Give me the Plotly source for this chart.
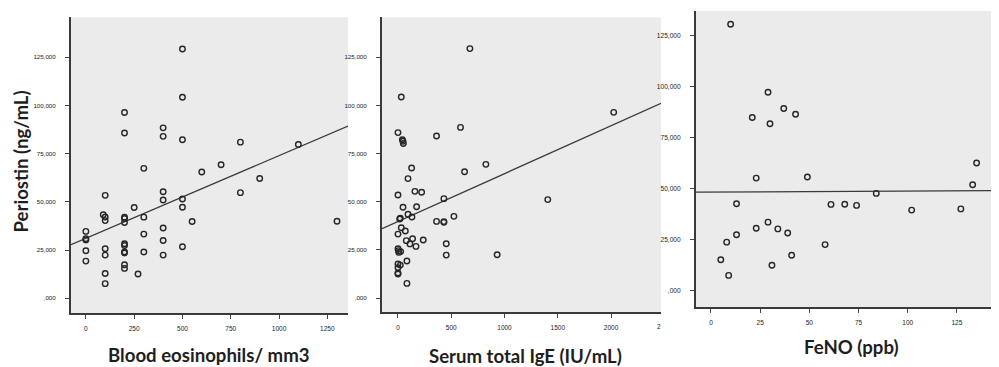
import plotly.graph_objects as go

# ---------------- data ----------------
eos_x = [500, 500, 200, 200, 400, 400, 500, 800, 1100, 700, 300, 600, 900, 100, 400, 800,
         400, 500, 500, 250, 90, 100, 100, 200, 200, 200, 300, 550, 1300, 0, 0, 0, 300,
         400, 400, 0, 100, 100, 200, 200, 200, 200, 300, 400, 500, 0, 100, 100, 200, 200, 270]
eos_y = [129300, 104300, 96400, 85700, 88400, 84000, 82200, 81000, 79800, 69300, 67400, 65500,
         62100, 53400, 55300, 54800, 51000, 51500, 47200, 47100, 43300, 42200, 40300, 42100,
         41400, 39300, 42100, 39800, 40000, 34700, 30900, 30300, 33300, 30000, 36500, 24700,
         25700, 22400, 28300, 27400, 24100, 23500, 24000, 22400, 26700, 19300, 12900, 7600,
         17400, 15500, 12600]
eos_fit_x = [-77, 1357]
eos_fit_y = [27800, 89300]

ige_x = [675, 31, 2025, 587, 0, 362, 41, 47, 50, 825, 128, 625, 94, 159, 222, 0, 431, 1406,
         47, 175, 94, 131, 525, 16, 22, 362, 431, 431, 31, 69, 0, 78, 137, 112, 169, 237, 453,
         0, 5, 8, 25, 453, 931, 84, 0, 22, 0, 0, 0, 84]
ige_y = [129500, 104400, 96400, 88600, 85900, 84100, 82200, 81400, 80200, 69400, 67500, 65600,
         62000, 55400, 54900, 53500, 51600, 51100, 47100, 47400, 43500, 42100, 42400, 41000,
         41400, 39800, 39700, 39300, 36500, 34800, 33200, 29800, 30800, 28100, 26800, 30100,
         28200, 25600, 24600, 23700, 24100, 22300, 22500, 19200, 17700, 17100, 15800, 13000,
         12500, 7600]
ige_fit_x = [-150, 2469]
ige_fit_y = [36000, 101100]

feno_x = [10, 29, 21, 37, 43, 30, 23, 49, 135, 133, 84, 13, 61, 68, 74, 102, 127, 29, 23, 34,
          39, 13, 8, 58, 5, 41, 31, 9]
feno_y = [130600, 97300, 84900, 89300, 86500, 81800, 55200, 55700, 62600, 51900, 47700, 42600,
          42300, 42400, 41800, 39500, 40100, 33600, 30600, 30300, 28300, 27400, 23800, 22600,
          15200, 17400, 12500, 7500]
feno_fit_x = [-7.6, 147.4]
feno_fit_y = [48300, 49100]

y_tickvals = [0, 25000, 50000, 75000, 100000, 125000]
y_ticktext = [",000", "25,000", "50,000", "75,000", "100,000", "125,000"]
eos_ticks = [0, 250, 500, 750, 1000, 1250]
ige_ticks = [0, 500, 1000, 1500, 2000]
feno_ticks = [0, 25, 50, 75, 100, 125]

# ---------------- figure ----------------
INK = "#262626"
fig = go.Figure()

def add_panel(xs, ys, fx, fy, n):
    xa = "x" if n == 1 else f"x{n}"
    ya = "y" if n == 1 else f"y{n}"
    fig.add_trace(go.Scatter(x=fx, y=fy, mode="lines", xaxis=xa, yaxis=ya,
                             line=dict(color="#3a3a3a", width=1.3), showlegend=False,
                             hoverinfo="skip"))
    fig.add_trace(go.Scatter(x=xs, y=ys, mode="markers", xaxis=xa, yaxis=ya,
                             marker=dict(symbol="circle-open", size=5.5,
                                         color=INK, line=dict(width=1.4, color=INK)),
                             showlegend=False))

add_panel(eos_x, eos_y, eos_fit_x, eos_fit_y, 1)
add_panel(ige_x, ige_y, ige_fit_x, ige_fit_y, 2)
add_panel(feno_x, feno_y, feno_fit_x, feno_fit_y, 3)

tickfont = dict(family="Liberation Sans, Arial, sans-serif", size=6.5, color="#222")
common_x = dict(showgrid=False, zeroline=False, showline=True, linecolor="#3a3a3a",
                linewidth=2, ticks="outside", ticklen=4, tickwidth=1, tickcolor="#444",
                tickfont=tickfont, ticklabelstandoff=4)
common_y = dict(showgrid=False, zeroline=False, showline=True, linecolor="#3a3a3a",
                linewidth=2, ticks="outside", ticklen=4, tickwidth=1, tickcolor="#444",
                tickfont=dict(family="Liberation Sans, Arial, sans-serif", size=6.2, color="#222"),
                tickvals=y_tickvals, ticktext=y_ticktext, ticklabelstandoff=8)

fig.update_layout(
    width=999, height=367,
    margin=dict(l=0, r=0, t=0, b=0),
    paper_bgcolor="white",
    plot_bgcolor="#ebebeb",
    xaxis=dict(domain=[63/999, 340/999], range=[-77, 1357], tickvals=eos_ticks,
               anchor="y", **common_x),
    yaxis=dict(domain=[1-305/367, 1-9.3/367], range=[-7625, 145750], anchor="x", **common_y),
    xaxis2=dict(domain=[374/999, 653/999], range=[-150, 2469], tickvals=ige_ticks,
                anchor="y2", **common_x),
    yaxis2=dict(domain=[1-304.3/367, 1-9.3/367], range=[-7400, 145750], anchor="x2", **common_y),
    xaxis3=dict(domain=[688/999, 993/999], range=[-7.6, 147.4], tickvals=feno_ticks,
                anchor="y3", **common_x),
    yaxis3=dict(domain=[1-299/367, 1-3/367], range=[-7990, 137100], anchor="x3",
                mirror=True, **common_y),
)
fig.layout.yaxis3.tickfont.size = 6.6

title_font = dict(family="Lato, 'Open Sans', sans-serif", size=18.6, color="#1e1e1e", weight="bold")
fig.add_annotation(text="Periostin (ng/mL)", xref="paper", yref="paper",
                   x=12/999, y=1-153.5/367, textangle=-90, showarrow=False,
                   font=title_font, xanchor="center", yanchor="middle")
fig.add_annotation(text="Blood eosinophils/ mm3", xref="paper", yref="paper",
                   x=201/999, y=1-347/367, showarrow=False, font=title_font,
                   xanchor="center", yanchor="middle")
fig.add_annotation(text="Serum total IgE (IU/mL)", xref="paper", yref="paper",
                   x=517/999, y=1-347.5/367, showarrow=False, font=title_font,
                   xanchor="center", yanchor="middle")
fig.add_annotation(text="FeNO (ppb)", xref="paper", yref="paper",
                   x=843/999, y=1-338.5/367, showarrow=False, font=title_font,
                   xanchor="center", yanchor="middle")
# clipped "2500" label at the right edge of the middle panel
fig.add_annotation(text="2", xref="paper", yref="paper", x=655/999, y=1-318/367,
                   showarrow=False, font=tickfont, xanchor="right", yanchor="middle")

fig.write_html("out.html")
